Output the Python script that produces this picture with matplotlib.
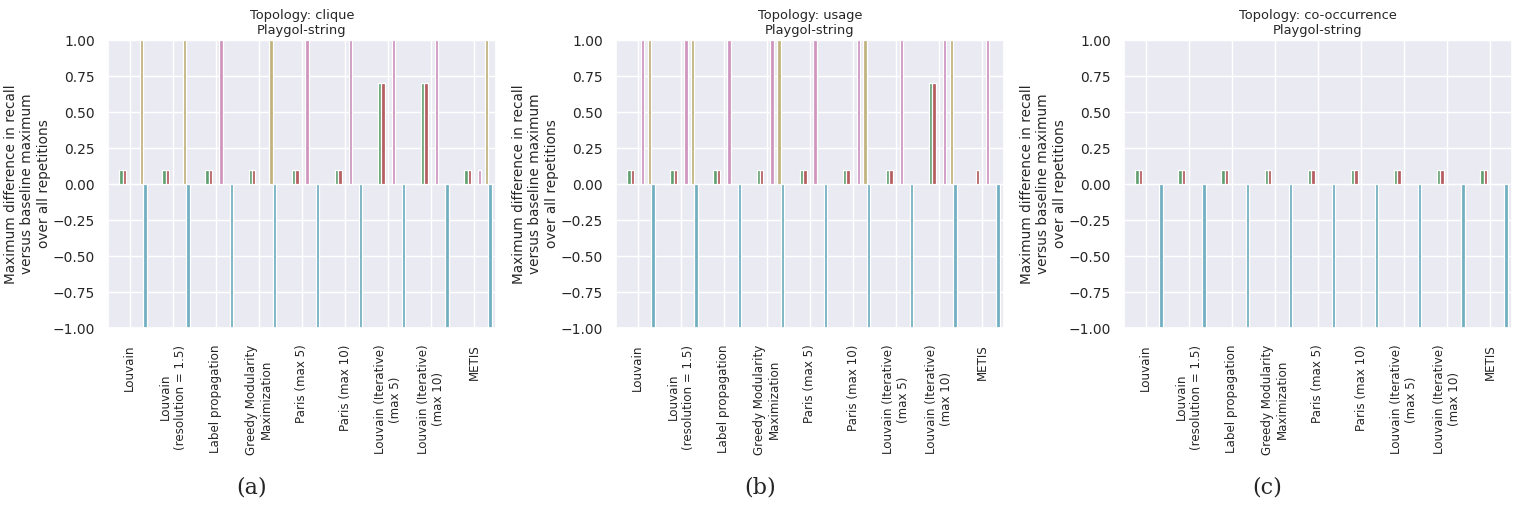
import matplotlib
matplotlib.use("Agg")
import matplotlib.pyplot as plt
import numpy as np
import seaborn as sns

sns.set_theme(style="darkgrid")

METHODS = ['Louvain', 'Louvain\n(resolution = 1.5)', 'Label propagation',
           'Greedy Modularity\nMaximization', 'Paris (max 5)', 'Paris (max 10)',
           'Louvain (Iterative)\n(max 5)', 'Louvain (Iterative)\n(max 10)', 'METIS']
TOPOLOGIES = ['clique', 'usage', 'co-occurrence']
PANEL_TAGS = ['(a)', '(b)', '(c)']
N_HUE = 10

# max recall difference per method, keyed by hue index (all other hues are 0)
clique = {
    2: [0.1, 0.1, 0.1, 0.1, 0.1, 0.1, 0.7, 0.7, 0.1],
    3: [0.1, 0.1, 0.1, 0.1, 0.1, 0.1, 0.7, 0.7, 0.1],
    6: [0.0, 0.0, 1.0, 0.0, 1.0, 1.0, 1.0, 1.0, 0.1],
    8: [1.0, 1.0, 0.0, 1.0, 0.0, 0.0, 0.0, 0.0, 1.0],
    9: [-1.0] * 9,
}
usage = {
    2: [0.1, 0.1, 0.1, 0.1, 0.1, 0.1, 0.1, 0.7, 0.0],
    3: [0.1, 0.1, 0.1, 0.1, 0.1, 0.1, 0.1, 0.7, 0.1],
    6: [1.0, 1.0, 1.0, 1.0, 1.0, 1.0, 1.0, 1.0, 1.0],
    8: [1.0, 1.0, 0.0, 1.0, 0.0, 1.0, 0.0, 1.0, 0.0],
    9: [-1.0] * 9,
}
cooccurrence = {
    2: [0.1] * 9,
    3: [0.1] * 9,
    9: [-1.0] * 9,
}
PANELS = [clique, usage, cooccurrence]

palette = [sns.desaturate(c, 0.75) for c in sns.color_palette("deep", N_HUE)]

fig = plt.figure(figsize=(15.19, 5.08), dpi=100)
lefts = [108 / 1519, 616 / 1519, 1124 / 1519]
tag_x = [252 / 1519, 760 / 1519, 1267 / 1519]
width, bottom, height = 388 / 1519, 180 / 508, 288 / 508

x = np.arange(len(METHODS))
yt = np.linspace(-1, 1, 9)
bw = 0.8 / N_HUE
for left, topo, data, tag, tx in zip(lefts, TOPOLOGIES, PANELS, PANEL_TAGS, tag_x):
    ax = fig.add_axes([left, bottom, width, height])
    for h in range(N_HUE):
        vals = data.get(h, [0.0] * len(METHODS))
        ax.bar(x - 0.4 + bw * (h + 0.5), vals, width=bw, color=palette[h],
               edgecolor='white', linewidth=0.9)
    ax.set_xlim(-0.5, len(METHODS) - 0.5)
    ax.set_ylim(-1.0, 1.0)
    ax.set_yticks(yt)
    ax.set_yticklabels([f"{v:.2f}".replace('-', '\u2212') for v in yt], fontsize=10)
    ax.set_xticks(x)
    ax.set_xticklabels(METHODS, rotation=90, fontsize=8.6, ha='center', va='top',
                       multialignment='center')
    ax.tick_params(axis='x', pad=6)
    ax.set_ylabel("Maximum difference in recall\nversus baseline maximum\nover all repetitions",
                  fontsize=9.8, labelpad=1, linespacing=1.25)
    ax.set_title(f"Topology: {topo}\nPlaygol-string", fontsize=9.4, pad=4)
    fig.text(tx, 0.04, tag, ha='center', va='center', fontsize=16, family='DejaVu Serif')

fig.savefig("out.png", dpi=100)
